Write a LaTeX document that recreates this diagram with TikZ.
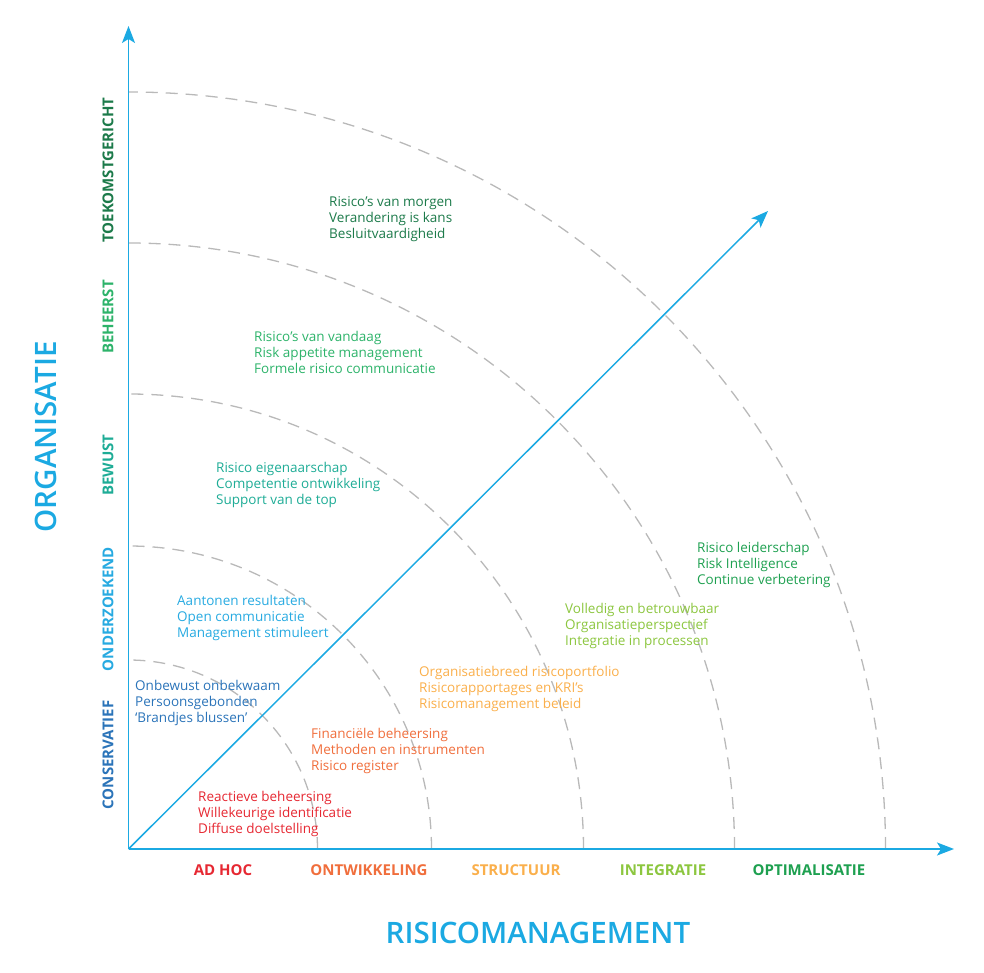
\documentclass[tikz,border=0pt]{standalone}
\usepackage{fontspec}
\setmainfont{Open Sans}
\IfFontExistsTF{Open Sans Semibold}{\newfontfamily\semib{Open Sans Semibold}}{%
  \IfFontExistsTF{Open Sans SemiBold}{\newfontfamily\semib{Open Sans SemiBold}}{%
    \newfontfamily\semib[FakeBold=1.3]{Open Sans}}}
\usetikzlibrary{arrows.meta,calc}
\definecolor{axisblue}{RGB}{27,169,226}
\definecolor{cred}{RGB}{230,40,50}
\definecolor{corange}{RGB}{240,110,60}
\definecolor{cyellow}{RGB}{250,175,75}
\definecolor{clime}{RGB}{140,198,63}
\definecolor{cgreen}{RGB}{30,160,80}
\definecolor{cdkgreen}{RGB}{28,122,74}
\definecolor{cmidgreen}{RGB}{45,179,106}
\definecolor{cteal}{RGB}{30,172,150}
\definecolor{cltblue}{RGB}{39,170,225}
\definecolor{cblue}{RGB}{43,116,185}
\definecolor{arcgray}{RGB}{185,185,185}
\tikzset{
  axisline/.style={draw=axisblue,line width=1.6pt,-{Stealth[length=17pt,width=13pt,inset=4pt]}},
  ring/.style={draw=arcgray,line width=1.3pt,dash pattern=on 12pt off 8pt},
  block/.style={anchor=north west,inner sep=0pt,align=left,font=\fontsize{13.5}{16}\selectfont},
  ylab/.style={rotate=90,inner sep=0pt,font=\fontsize{15}{18}\selectfont\bfseries},
  xlab/.style={inner sep=0pt,font=\fontsize{15}{18}\selectfont\bfseries},
  title/.style={inner sep=0pt,text=axisblue,font=\fontsize{29.5}{36}\selectfont\semib}
}
\begin{document}
\begin{tikzpicture}[x=1pt,y=1pt]
\useasboundingbox (0,0) rectangle (984,972);
\coordinate (O) at (128.5,123);
\coordinate (ytip) at (128.5,946);
\coordinate (xtip) at (954,123);
\coordinate (dtip) at (768,761);
% rings
\foreach \r in {189,303,455,606,757}{
  \draw[ring] ($(O)+(\r,0)$) arc[start angle=0,end angle=90,radius=\r];
}
% axes
\draw[axisline] (O) -- (ytip);
\draw[axisline] (O) -- (xtip);
\draw[axisline,line width=1.5pt] (O) -- (dtip);
% y labels
\node[ylab,text=cdkgreen] (l5) at (108,802) {TOEKOMSTGERICHT};
\node[ylab,text=cmidgreen] (l4) at (108,655) {BEHEERST};
\node[ylab,text=cteal] (l3) at (108,507) {BEWUST};
\node[ylab,text=cltblue] (l2) at (108,363) {ONDERZOEKEND};
\node[ylab,text=cblue] (l1) at (108,217) {CONSERVATIEF};
% x labels
\node[xlab,text=cred] (m1) at (223,102) {AD HOC};
\node[xlab,text=corange] (m2) at (369,102) {ONTWIKKELING};
\node[xlab,text=cyellow] (m3) at (516,102) {STRUCTUUR};
\node[xlab,text=clime] (m4) at (663,102) {INTEGRATIE};
\node[xlab,text=cgreen] (m5) at (809,102) {OPTIMALISATIE};
% titles
\node[title,rotate=90] (torg) at (46,535) {ORGANISATIE};
\node[title] (trm) at (538,39) {RISICOMANAGEMENT};
% blocks
\node[block,text=cdkgreen] (b1) at (329,776) {Risico’s van morgen\\Verandering is kans\\Besluitvaardigheid};
\node[block,text=cmidgreen] (b2) at (254,641) {Risico’s van vandaag\\Risk appetite management\\Formele risico communicatie};
\node[block,text=cteal] (b3) at (216,510) {Risico eigenaarschap\\Competentie ontwikkeling\\Support van de top};
\node[block,text=cltblue] (b4) at (177,377) {Aantonen resultaten\\Open communicatie\\Management stimuleert};
\node[block,text=cblue] (b5) at (135,292) {Onbewust onbekwaam\\Persoonsgebonden\\‘Brandjes blussen’};
\node[block,text=corange] (b6) at (311,244) {Financiële beheersing\\Methoden en instrumenten\\Risico register};
\node[block,text=cred] (b7) at (198,181) {Reactieve beheersing\\Willekeurige identificatie\\Diffuse doelstelling};
\node[block,text=cyellow] (b8) at (419,306) {Organisatiebreed risicoportfolio\\Risicorapportages en KRI’s\\Risicomanagement beleid};
\node[block,text=clime] (b9) at (565,369) {Volledig en betrouwbaar\\Organisatieperspectief\\Integratie in processen};
\node[block,text=cgreen] (b10) at (697,430) {Risico leiderschap\\Risk Intelligence\\Continue verbetering};
\end{tikzpicture}
\end{document}
